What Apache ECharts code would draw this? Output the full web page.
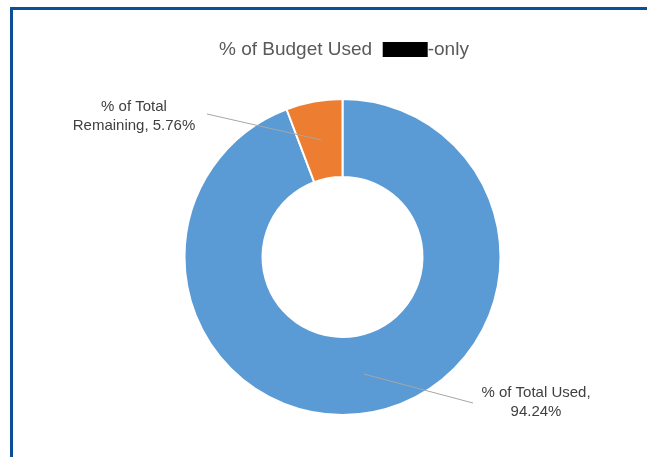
<!DOCTYPE html>
<html>
<head>
<meta charset="utf-8">
<script src="https://cdn.jsdelivr.net/npm/echarts@6/dist/echarts.min.js"></script>
<style>
  html, body { margin: 0; padding: 0; background: #fff; }
  #frame { position: absolute; left: 10px; top: 7px; right: 0; bottom: 0;
           border-top: 3px solid #0b4f96; border-left: 3px solid #0b4f96; }
  #chart { position: absolute; left: 0; top: 0; width: 647px; height: 457px; }
</style>
</head>
<body>
<div id="frame"></div>
<div id="chart"></div>
<script>
const categories = ['% of Total Used', '% of Total Remaining'];
const values = [94.24, 5.76];
const colors = ['#5B9BD5', '#ED7D31'];
const labelTexts = ['% of Total Used,\n94.24%', '% of Total\nRemaining, 5.76%'];

// label placement (center of label) and leader-line end points
const labelPlace = [
  { x: 536, y: 402, end: [473, 403] },
  { x: 134, y: 116, end: [207, 114] }
];

const chart = echarts.init(document.getElementById('chart'), null, { renderer: 'canvas' });

const font = 'Liberation Sans, Arial, sans-serif';
const pieBase = {
  type: 'pie',
  center: [342.5, 257],
  radius: [80, 158],
  startAngle: 90,
  clockwise: true,
  avoidLabelOverlap: false
};

chart.setOption({
  animation: false,
  title: {
    text: '% of Budget Used  {r|}-only',
    left: 214,
    top: 35,
    textStyle: {
      fontFamily: font,
      fontSize: 19,
      fontWeight: 'normal',
      color: '#595959',
      rich: {
        r: { backgroundColor: '#000', width: 45, height: 15, fontSize: 19 }
      }
    }
  },
  series: [
    Object.assign({}, pieBase, {
      z: 2,
      itemStyle: { borderColor: '#fff', borderWidth: 2 },
      label: { show: false },
      labelLine: { show: false },
      data: categories.map((c, i) => ({ name: c, value: values[i], itemStyle: { color: colors[i] } }))
    }),
    Object.assign({}, pieBase, {
      z: 3,
      silent: true,
      itemStyle: { color: 'rgba(0,0,0,0)', borderWidth: 0 },
      label: {
        show: true,
        formatter: p => labelTexts[p.dataIndex],
        fontFamily: font,
        fontSize: 15,
        lineHeight: 19,
        color: '#404040',
        align: 'center'
      },
      labelLine: {
        show: true,
        lineStyle: { color: '#A6A6A6', width: 1 }
      },
      labelLayout: function (params) {
        const pl = labelPlace[params.dataIndex];
        const pts = params.labelLinePoints;
        let start = pl.end;
        if (pts) {
          const dx = pts[1][0] - pts[0][0], dy = pts[1][1] - pts[0][1];
          const len = Math.sqrt(dx * dx + dy * dy) || 1;
          start = [pts[0][0] - dx / len * 39, pts[0][1] - dy / len * 39];
        }
        return {
          x: pl.x, y: pl.y, align: 'center', verticalAlign: 'middle',
          labelLinePoints: [start, [(start[0] + pl.end[0]) / 2, (start[1] + pl.end[1]) / 2], pl.end]
        };
      },
      data: categories.map((c, i) => ({ name: c, value: values[i] }))
    })
  ]
});
</script>
</body>
</html>
